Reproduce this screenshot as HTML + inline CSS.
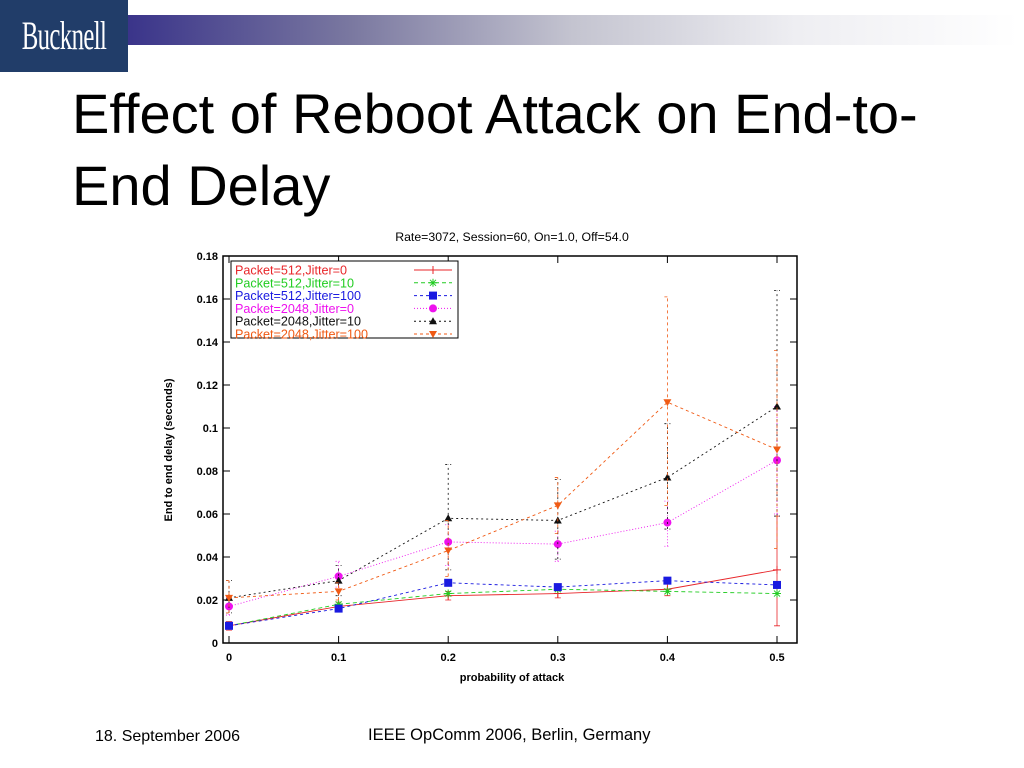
<!DOCTYPE html>
<html><head><meta charset="utf-8"><style>
body{margin:0;width:1024px;height:768px;background:#fff;overflow:hidden;position:relative;font-family:"Liberation Sans",sans-serif}
.abs{position:absolute}
</style></head><body>
<div class="abs" style="left:0;top:0;width:128px;height:72px;background:#213d69;overflow:hidden"><div style="color:#fff;font-family:'Liberation Serif',serif;font-size:40px;line-height:72px;text-align:center;transform:scaleX(0.62);letter-spacing:-1px;white-space:nowrap;margin-left:-30px;width:188px">Bucknell</div></div>
<div class="abs" style="left:128px;top:15px;width:890px;height:30px;background:linear-gradient(to right,#3a348a,#7a78a0 25%,#c4c4d0 50%,#eeeef2 75%,#fff)"></div>
<div class="abs" style="left:72px;top:78px;font-size:56px;line-height:72px;color:#000">Effect of Reboot Attack on End-to-<br>End Delay</div>
<svg class="abs" style="left:0;top:0" width="1024" height="768" id="chart"></svg>
<div class="abs" style="left:95px;top:728px;font-size:16px">18. September 2006</div>
<div class="abs" style="left:368px;top:726px;font-size:16.5px">IEEE OpComm 2006, Berlin, Germany</div>
<script>
const xCats=[0,0.1,0.2,0.3,0.4,0.5];
const xTicks=["0","0.1","0.2","0.3","0.4","0.5"];
const yTicks=[0,0.02,0.04,0.06,0.08,0.1,0.12,0.14,0.16,0.18];
const yTickLabels=["0","0.02","0.04","0.06","0.08","0.1","0.12","0.14","0.16","0.18"];
const seriesNames=["Packet=512,Jitter=0","Packet=512,Jitter=10","Packet=512,Jitter=100","Packet=2048,Jitter=0","Packet=2048,Jitter=10","Packet=2048,Jitter=100"];
const s512j0=[0.008,0.017,0.022,0.023,0.025,0.034];
const s512j10=[0.008,0.018,0.023,0.025,0.024,0.023];
const s512j100=[0.008,0.016,0.028,0.026,0.029,0.027];
const s2048j0=[0.017,0.031,0.047,0.046,0.056,0.085];
const s2048j10=[0.021,0.029,0.058,0.057,0.077,0.110];
const s2048j100=[0.021,0.024,0.043,0.064,0.112,0.090];
const lo2048j10=[0.014,0.022,0.034,0.039,0.053,0.059];
const hi2048j10=[0.029,0.036,0.083,0.076,0.102,0.164];
const lo2048j100=[0.014,0.020,0.031,0.051,0.064,0.044];
const hi2048j100=[0.029,0.028,0.057,0.077,0.161,0.136];
const lo512j0=[0.006,0.015,0.020,0.021,0.022,0.008];
const hi512j0=[0.010,0.019,0.024,0.025,0.028,0.059];
const lo2048j0=[0.013,0.026,0.036,0.038,0.045,0.060];
const hi2048j0=[0.021,0.038,0.055,0.052,0.066,0.110];
const S=[
 {v:s512j0,c:"#e8262a",d:"",m:"plus",lo:lo512j0,hi:hi512j0},
 {v:s512j10,c:"#22cc22",d:"4,3",m:"star"},
 {v:s512j100,c:"#1a1ae0",d:"3,3",m:"square"},
 {v:s2048j0,c:"#ee11ee",d:"1,2",m:"circle",lo:lo2048j0,hi:hi2048j0},
 {v:s2048j10,c:"#111",d:"2,3",m:"tri",lo:lo2048j10,hi:hi2048j10},
 {v:s2048j100,c:"#f05a14",d:"3,3",m:"itri",lo:lo2048j100,hi:hi2048j100}];
const X0=229,X1=777,Y0=643,Y1=256,FL=223,FR=797;
const xs=v=>X0+(X1-X0)*v/0.5, ys=v=>Y0-(Y0-Y1)*v/0.18;
const svg=document.getElementById('chart');const NS="http://www.w3.org/2000/svg";
function mk(t,a,p){const e=document.createElementNS(NS,t);for(const k in a)e.setAttribute(k,a[k]);(p||svg).appendChild(e);return e;}
function txt(x,y,s,a,p){const e=mk('text',Object.assign({x:x,y:y,'font-size':11,'font-family':'Liberation Sans, sans-serif','font-weight':'bold'},a||{}),p);e.textContent=s;return e;}
const frame=mk('rect',{x:FL,y:Y1,width:FR-FL,height:Y0-Y1,fill:'none',stroke:'#000','stroke-width':1.5});


yTicks.forEach((v,i)=>{const y=ys(v);mk('line',{x1:FL,x2:FL+7,y1:y,y2:y,stroke:'#000'});mk('line',{x1:FR,x2:FR-7,y1:y,y2:y,stroke:'#000'});
 const t=txt(218,y+4,yTickLabels[i],{'text-anchor':'end'});
 
 });
xCats.forEach((v,i)=>{const x=xs(v);mk('line',{x1:x,x2:x,y1:Y0,y2:Y0-7,stroke:'#000'});mk('line',{x1:x,x2:x,y1:Y1,y2:Y1+7,stroke:'#000'});
 const t=txt(x,661,xTicks[i],{'text-anchor':'middle'});
 
 });
const ct=txt(512,241,"Rate=3072, Session=60, On=1.0, Off=54.0",{'text-anchor':'middle','font-weight':'normal','font-size':12.3});


const xt=txt(512,681,"probability of attack",{'text-anchor':'middle'});


const yt=txt(0,0,"End to end delay (seconds)",{'text-anchor':'middle',transform:'translate(172,450) rotate(-90)'});


function marker(m,x,y,c,g){
 if(m=="plus"){mk('path',{d:`M${x-4} ${y}h8M${x} ${y-4}v8`,stroke:c},g);}
 else if(m=="star"){mk('path',{d:`M${x-4} ${y}h8M${x} ${y-4}v8M${x-3} ${y-3}l6 6M${x-3} ${y+3}l6 -6`,stroke:c},g);}
 else if(m=="square")mk('rect',{x:x-4,y:y-4,width:8,height:8,fill:c},g);
 else if(m=="circle")mk('circle',{cx:x,cy:y,r:4,fill:c},g);
 else if(m=="tri")mk('path',{d:`M${x} ${y-4}L${x+4} ${y+3}L${x-4} ${y+3}Z`,fill:c},g);
 else mk('path',{d:`M${x} ${y+4}L${x+4} ${y-3}L${x-4} ${y-3}Z`,fill:c},g);}
S.forEach((s,k)=>{const g=mk('g',{});
 
 
 if(s.lo)xCats.forEach((v,i)=>{const x=xs(v);mk('path',{d:`M${x} ${ys(s.lo[i])}V${ys(s.hi[i])}M${x-3} ${ys(s.lo[i])}h6M${x-3} ${ys(s.hi[i])}h6`,stroke:s.c,'stroke-width':0.8,'stroke-dasharray':s.d||'none',fill:'none'},g);});
 mk('polyline',{points:xCats.map((v,i)=>xs(v)+','+ys(s.v[i])).join(' '),fill:'none',stroke:s.c,'stroke-width':0.9,'stroke-dasharray':s.d||'none'},g);
 xCats.forEach((v,i)=>marker(s.m,xs(v),ys(s.v[i]),s.c,g));});
const lg=mk('g',{});


mk('rect',{x:231,y:261,width:227,height:77,fill:'#fff',stroke:'#000'},lg);
S.forEach((s,k)=>{const y=270+k*12.8;
 const t=txt(235,y+4.5,seriesNames[k],{fill:s.c,'font-weight':'normal','font-size':12.6},lg);
 
 
 mk('line',{x1:414,x2:452,y1:y,y2:y,stroke:s.c,'stroke-dasharray':s.d||'none'},lg);marker(s.m,433,y,s.c,lg);});
</script>
</body></html>
